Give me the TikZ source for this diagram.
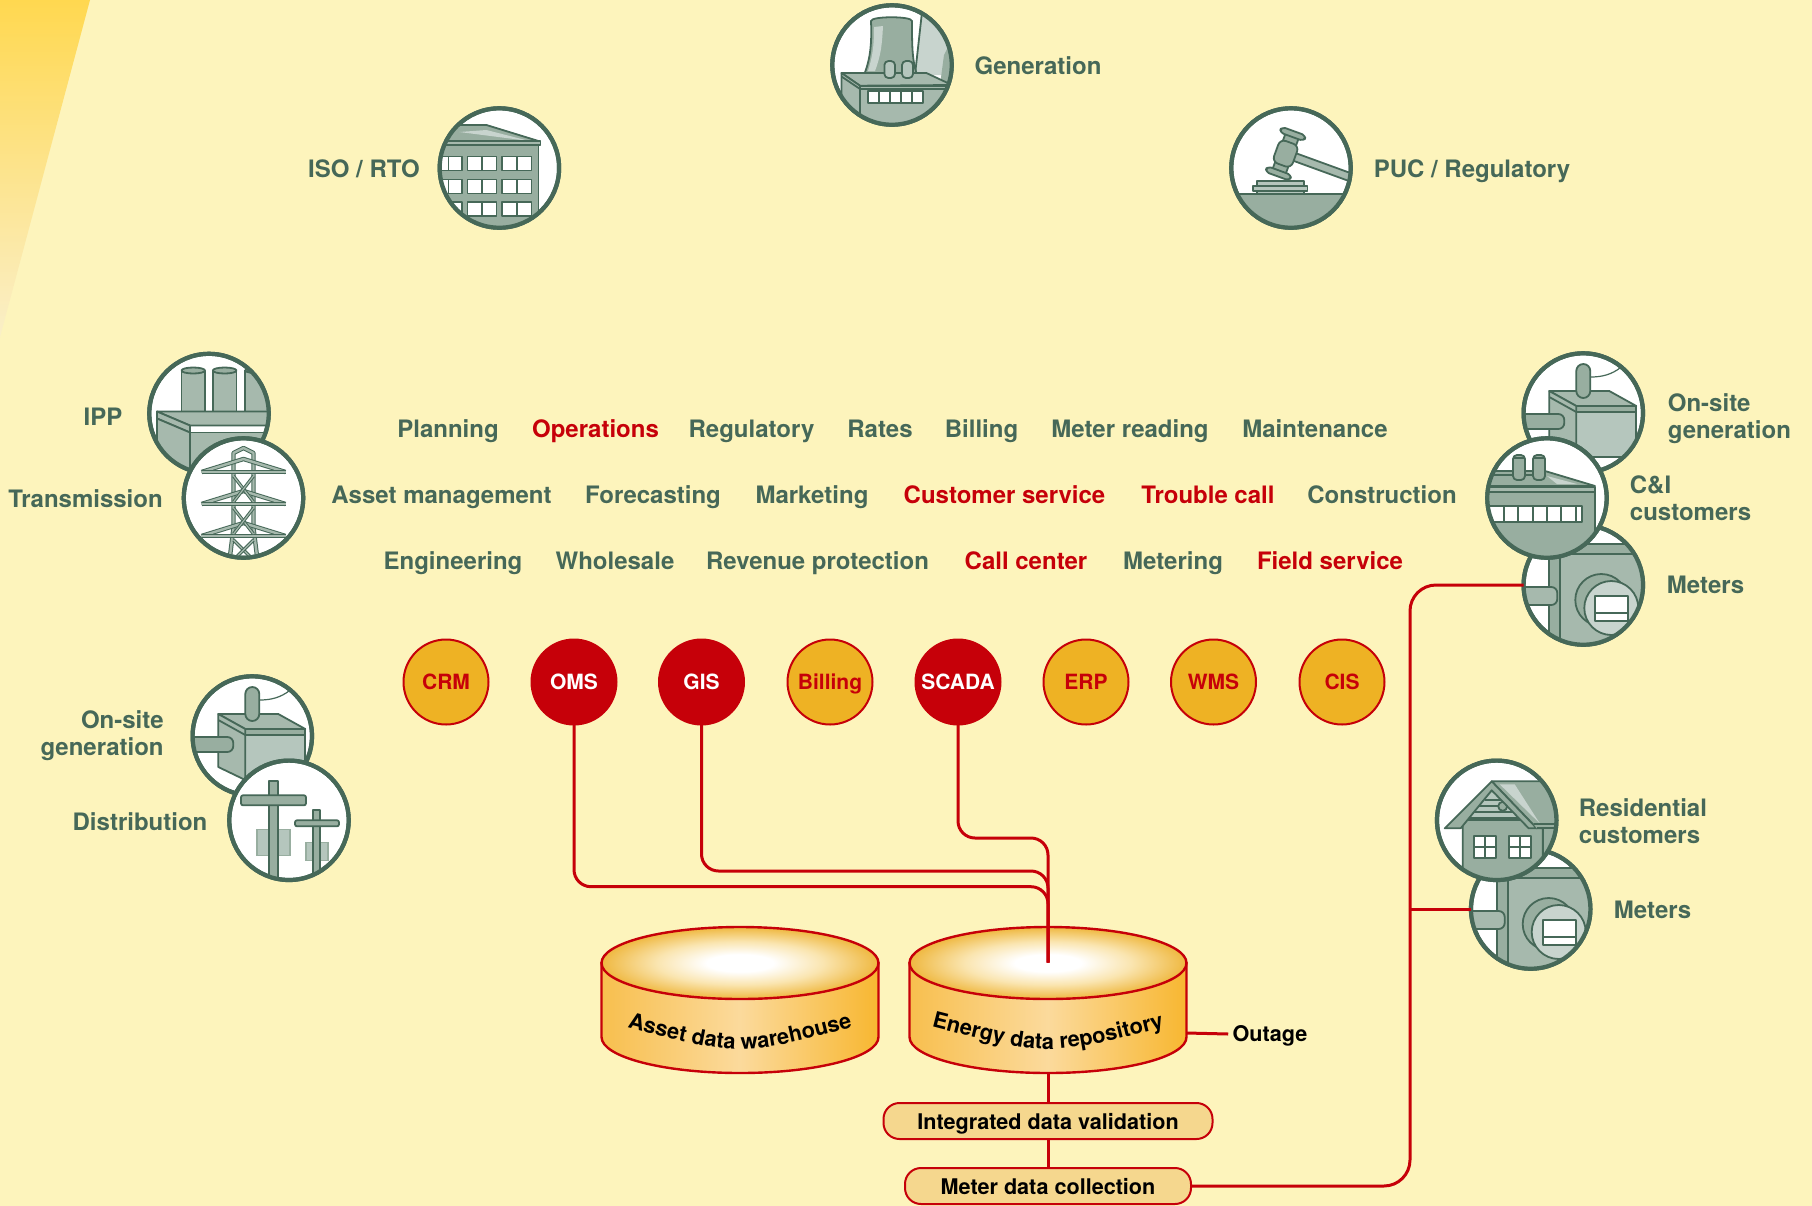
\documentclass[tikz,border=0pt]{standalone}
\usepackage{fontspec}
\setmainfont{TeX Gyre Heros}
\usetikzlibrary{decorations.text}
\definecolor{bgc}{HTML}{FDF4BC}
\definecolor{grn}{HTML}{466858}
\definecolor{mdg}{HTML}{98AEA0}
\definecolor{ltg}{HTML}{A6B9AD}
\definecolor{pal}{HTML}{B5C6BD}
\definecolor{pl2}{HTML}{C8D4CE}
\definecolor{rd}{HTML}{C60009}
\definecolor{org}{HTML}{EEB224}
\definecolor{pil}{HTML}{F5D78E}
\definecolor{cylL}{HTML}{F8BF4E}
\definecolor{cylM}{HTML}{FBDA9C}
\definecolor{cylR}{HTML}{F8B731}
\definecolor{cylE}{HTML}{EFB840}
\definecolor{cylF}{HTML}{FAE5B0}
\definecolor{wedgeT}{HTML}{FFD850}
\definecolor{wedgeB}{HTML}{FAEFC8}
\pgfdeclareradialshading{topell}{\pgfpoint{0bp}{0bp}}{color(0bp)=(white);color(6bp)=(white);color(15bp)=(cylF);color(25bp)=(cylE);color(50bp)=(cylE)}
\pgfdeclarehorizontalshading{cylside}{100bp}{color(0bp)=(cylL);color(25bp)=(cylL);color(50bp)=(cylM);color(75bp)=(cylR);color(100bp)=(cylR)}
\newcommand\lbl{\fontsize{12pt}{13.5pt}\selectfont\bfseries}
\newcommand\blk{\fontsize{10.8pt}{12pt}\selectfont\bfseries}
\newcommand\cyltxt{\fontsize{10.9pt}{12pt}\selectfont\bfseries}
\tikzset{
 ln/.style={draw=grn,line width=.9pt,line join=round},
 thn/.style={draw=grn,line width=.6pt},
 fm/.style={ln,fill=mdg},
 fl/.style={ln,fill=ltg},
 fp/.style={ln,fill=pal},
 fw/.style={ln,fill=white},
 dbl/.style={draw=grn,line width=.5pt,double=ltg,double distance=1.2pt,line join=round},
 ring/.style={circle,fill=white,draw=grn,line width=2.1pt,minimum size=59.7pt,inner sep=0pt,outer sep=0pt},
 ringln/.style={draw=grn,line width=2.1pt},
 glab/.style={text=grn,inner sep=0pt,font=\lbl,text height=9.8pt,text depth=1.3pt},
 glabm/.style={text=grn,inner sep=0pt,font=\lbl,align=left},
 rlab/.style={glab,text=rd},
 sysbase/.style={circle,minimum size=42.5pt,inner sep=0pt,outer sep=0pt,draw=rd,line width=1pt,text height=7.6pt,text depth=0pt,font=\fontsize{10.5pt}{12pt}\selectfont\bfseries},
 sysor/.style={sysbase,fill=org,text=rd},
 sysrd/.style={sysbase,fill=rd,text=white},
 pill/.style={draw=rd,fill=pil,line width=1pt,rounded corners=8pt,minimum height=18pt,inner sep=0pt,outer sep=0pt,text height=8.3pt,text depth=0pt,font=\blk},
 redl/.style={draw=rd,line width=1.5pt},
 cylout/.style={draw=rd,line width=1.2pt},
}
\newcommand\icon[4]{%
 \node[ring] (#1) at (#2,#3) {};
 \begin{scope}[shift={(#2,#3)}]
  \begin{scope}\clip (0,0) circle [radius=59.7]; #4 \end{scope}
  \draw[ringln] (0,0) circle [radius=59.7];
 \end{scope}}
\newcommand\bodyISO{%
 \fill[mdg] (-70,-27) rectangle (39,70);
 \filldraw[fm] (-70,-43) -- (-13,-43) -- (39,-27) -- (-70,-27) -- cycle;
 \fill[pl2] (-40,-36) -- (-13,-38) -- (30,-27) -- cycle;
 \draw[ln,fill=ltg] (-70,-27) rectangle (41,-23);
 \draw[ln] (39,-23) -- (39,52);
 \fill[mdg] (-70,49) rectangle (70,70);
 \foreach \ya/\yb in {-11.5/2.5,11.5/25.5,34/48}{
  \foreach \xa/\xb/\xm in {-70/-37.5/-51,-32/-3/-17.5,2.7/32/17.5}{
   \draw[fw] (\xa,\ya) rectangle (\xb,\yb);
   \draw[ln] (\xm,\ya) -- (\xm,\yb);
  }}
}
\newcommand\bodyGen{%
 \fill[pl2] (31,-62) -- (23,10) -- (62,10) -- (62,-62) -- cycle;
 \fill[mdg] (52,-10) -- (62,-30) -- (62,20) -- (48,20) -- cycle;
 \draw[ln] (31,-62) -- (23,10);
 \filldraw[fm] (-21,-44) .. controls (-20,-20) and (-22,-5) .. (-28,10) -- (25,10) .. controls (20,-5) and (20,-20) .. (20,-44) .. controls (20,-49) and (-21,-49) .. (-21,-44) -- cycle;
 \fill[pl2] (-18,-38) -- (-9,-39) .. controls (-10,-20) and (-11,-10) .. (-17,6) -- (-24,6) .. controls (-19,-10) and (-18,-20) .. (-18,-38) -- cycle;
 \filldraw[fl] (-50.5,8) -- (34.4,8) -- (60,20) -- (-32,20.7) -- cycle;
 \filldraw[fl] (-32,20.7) -- (60,20.7) -- (60,70) -- (-32,70) -- cycle;
 \filldraw[fl] (-50.5,8) -- (-32,20.7) -- (-32,70) -- (-50.5,70) -- cycle;
 \draw[ln] (-50.5,11.5) -- (-32,24) -- (60,24);
 \draw[fp,rounded corners=2pt] (-7.6,-4) rectangle (3,13);
 \draw[fp,rounded corners=2pt] (10,-4) rectangle (21,13);
 \foreach \a/\b in {-24/-13,-13/-2,-2/9,9/20,20/31}{\draw[fw] (\a,26) rectangle (\b,38);}
}
\newcommand\bodyPUC{%
 \filldraw[fm] (-70,25.7) rectangle (70,70);
 \draw[fp] (-34,13) rectangle (13,26);
 \draw[fp] (-38,18) rectangle (16.5,23);
 \begin{scope}[shift={(-5.4,-14.3)},rotate=-20]
  \filldraw[fl] (8,-4) rectangle (85,4);
  \filldraw[fm] (-7,-20) rectangle (7,20);
  \filldraw[fm,rounded corners=3pt] (-10,-12) rectangle (10,12);
  \filldraw[fm,rounded corners=2pt] (-13,-24) rectangle (13,-18);
  \filldraw[fm,rounded corners=2pt] (-13,18) rectangle (13,24);
 \end{scope}
}
\newcommand\bodyIPP{%
 \foreach \a/\b in {-27.5/-4,3.8/27.5,36/70}{
  \filldraw[fl] (\a,-43) -- (\a,0) -- (\b,0) -- (\b,-43) -- cycle;
  \filldraw[fm] ({(\a+\b)/2},-43) ellipse [x radius={(\b-\a)/2},y radius=3];
 }
 \filldraw[fl] (-52,-2) -- (70,-2) -- (70,12) -- (-19,12) -- cycle;
 \filldraw[fl] (-52,-2) -- (-19,12) -- (-19,19) -- (-52,5) -- cycle;
 \filldraw[fl] (-52,5) -- (-19,19) -- (-19,70) -- (-52,70) -- cycle;
 \filldraw[fl] (-19,19) rectangle (70,70);
 \draw[ln] (-19,12) -- (70,12);
}
\newcommand\bodyTrans{%
 \draw[dbl] (-14,62) -- (-10,30) -- (-10,-45) -- (0,-50) -- (10,-45) -- (10,30) -- (14,62);
 \foreach \y/\u in {-26/-39,6/-7,38/25}{
  \draw[dbl] (-42,\y) -- (0,\u) -- (42,\y);
  \draw[dbl] (-42,\y) -- (42,\y);
 }
 \foreach \a/\b in {-22/4,10/36,42/62}{
  \draw[dbl,double distance=.6pt] (-10,\a) -- (10,\b);
  \draw[dbl,double distance=.6pt] (10,\a) -- (-10,\b);
 }
}
\newcommand\bodyOnsite{%
 \draw[thn] (7,-36) .. controls (18,-36) and (28,-38) .. (38,-46);
 \filldraw[fl] (-34,-22) -- (26,-22) -- (53,-7) -- (-7,-7) -- cycle;
 \filldraw[fp] (-7,-1) rectangle (53,44);
 \filldraw[fm] (-7,-7) rectangle (53,-1);
 \filldraw[fl] (-34,-22) -- (-7,-7) -- (-7,44) -- (-34,31) -- cycle;
 \draw[ln] (-34,-16) -- (-7,-1);
 \filldraw[fm,rounded corners=3pt] (-75,1) rectangle (-19,16);
 \filldraw[fm,rounded corners=3.5pt] (-7,-49) rectangle (7,-15);
}
\newcommand\bodyDist{%
 \filldraw[draw=mdg,fill=pal,line width=.8pt] (-32,9) rectangle (1,35);
 \filldraw[fm] (-20,-39) rectangle (-11,70);
 \filldraw[fm,rounded corners=1pt] (-48,-25) rectangle (17,-15);
 \filldraw[draw=mdg,fill=pal,line width=.8pt] (17,22) rectangle (39,40);
 \filldraw[fm] (24,-10) rectangle (31,70);
 \filldraw[fm,rounded corners=1pt] (6,0) rectangle (50,6);
}
\newcommand\bodyMeter{%
 \fill[mdg] (-23,-41) rectangle (70,-31);
 \draw[ln] (-23,-41) -- (70,-41) (-23,-31) -- (70,-31);
 \filldraw[fl] (-23,-31) rectangle (70,70);
 \filldraw[fm] (-34,-70) rectangle (-23,70);
 \filldraw[fl,rounded corners=3pt] (-75,2) rectangle (-26,20);
 \filldraw[fm] (18,15) circle [radius=26];
 \filldraw[ln,fill=pl2] (28,23) circle [radius=27];
 \draw[fw] (12,11) rectangle (45,36);
 \draw[ln] (12,28) -- (45,28);
}
\newcommand\bodyCI{%
 \filldraw[fm] (-70,-27) -- (-2,-27) -- (48,-12) -- (-70,-12) -- cycle;
 \fill[pl2] (0,-22) -- (30,-14) -- (10,-14) -- cycle;
 \draw[ln] (-70,-23) -- (-2,-23);
 \filldraw[fl] (-70,-11) rectangle (48,-6);
 \filldraw[fm] (-70,-6) rectangle (48,48);
 \fill[mdg] (-70,40) rectangle (70,70);
 \draw[ln] (48,40) -- (48,48);
 \foreach \a in {-34,-14}{
  \filldraw[fm,rounded corners=2pt] (\a,-43) rectangle ({\a+12},-18);
  \draw[ln] (\a,-40) -- ({\a+12},-40);
 }
 \foreach \a/\b in {-71.8/-57.5,-57.5/-43,-43/-28.7,-28.7/-14.3,-14.3/0,0/14.3,14.3/28.6,28.6/35}{\draw[fw] (\a,8) rectangle (\b,24);}
}
\newcommand\bodyRes{%
 \filldraw[fm] (-5,-39) -- (70,-39) -- (70,6) -- (40,8) -- cycle;
 \fill[pl2] (3,-36) -- (18,-36) -- (43,3) -- cycle;
 \filldraw[fm] (46,6) rectangle (70,70);
 \filldraw[fm] (-34,-2) -- (-5,-30) -- (40,8) -- (46,8) -- (46,70) -- (-34,70) -- cycle;
 \fill[pal] (-5,-28) -- (-31,0) -- (32,0) -- cycle;
 \foreach \y/\a/\b in {-20/-12/4,-14/-18/10,-8/-24/17,-2/-29/24}{\draw[ln] (\a,\y) -- (\b,\y);}
 \draw[ln] (-31,0) -- (32,0);
 \filldraw[fm] (6,-14) circle [radius=4.5];
 \filldraw[fm] (-52,8) -- (-5,-39) -- (40,8) -- (32,8) -- (-5,-30) -- (-36,8) -- cycle;
 \draw[fm] (40,8) -- (62,8) -- (62,4) -- (37,4);
 \foreach \a in {-23,12}{
  \draw[fw] (\a,16) rectangle ({\a+22},38);
  \draw[ln] ({\a+11},16) -- ({\a+11},38) (\a,27) -- ({\a+22},27);
 }
}
\begin{document}
\begin{tikzpicture}[x=0.5pt,y=-0.5pt]
\useasboundingbox (0,0) rectangle (1812,1206);
\fill[bgc] (0,0) rectangle (1812,1206);
\shade[top color=wedgeT,bottom color=wedgeB] (0,0) -- (90,0) -- (0,337) -- cycle;
% icons
\icon{gen}{892}{65}{\bodyGen}
\icon{iso}{499.4}{168}{\bodyISO}
\icon{puc}{1291}{168}{\bodyPUC}
\icon{ipp}{209}{413.5}{\bodyIPP}
\icon{trans}{243.5}{498}{\bodyTrans}
\icon{onl}{252.3}{736}{\bodyOnsite}
\icon{dist}{289}{820.3}{\bodyDist}
\icon{onr}{1583.3}{413}{\bodyOnsite}
\icon{mtra}{1583.3}{585}{\bodyMeter}
\icon{cni}{1547}{498}{\bodyCI}
\icon{mtrb}{1530.7}{909}{\bodyMeter}
\icon{res}{1496.7}{820.3}{\bodyRes}
% icon labels
\node[glab] (lgen) at (1038,66) {Generation};
\node[glab] (liso) at (364,169) {ISO / RTO};
\node[glab] (lpuc) at (1472,169) {PUC / Regulatory};
\node[glab] (lipp) at (103,417) {IPP};
\node[glab] (ltrans) at (85.5,499) {Transmission};
\node[glabm,align=right,anchor=east] (lonl) at (164,736) {On-site\\generation};
\node[glab] (ldist) at (140,821.5) {Distribution};
\node[glabm,anchor=west] (lonr) at (1667.5,418.8) {On-site\\generation};
\node[glabm,anchor=west] (lcni) at (1629.5,498.5) {C\&I\\customers};
\node[glab,anchor=west] (lmtra) at (1666.5,585) {Meters};
\node[glabm,anchor=west] (lres) at (1578.5,821) {Residential\\customers};
\node[glab,anchor=west] (lmtrb) at (1613.5,909.5) {Meters};
% function rows
\node[glab] (f1) at (448,429) {Planning};
\node[rlab] (f2) at (595.5,429) {Operations};
\node[glab] (f3) at (751.5,429) {Regulatory};
\node[glab] (f4) at (880,429) {Rates};
\node[glab] (f5) at (981.5,429) {Billing};
\node[glab] (f6) at (1130,429) {Meter reading};
\node[glab] (f7) at (1315,429) {Maintenance};
\node[glab] (f8) at (441.5,495) {Asset management};
\node[glab] (f9) at (653,495) {Forecasting};
\node[glab] (f10) at (812,495) {Marketing};
\node[rlab] (f11) at (1004.5,495) {Customer service};
\node[rlab] (f12) at (1208,495) {Trouble call};
\node[glab] (f13) at (1382,495) {Construction};
\node[glab] (f14) at (453,561) {Engineering};
\node[glab] (f15) at (615,561) {Wholesale};
\node[glab] (f16) at (817.5,561) {Revenue protection};
\node[rlab] (f17) at (1026,561) {Call center};
\node[glab] (f18) at (1173,561) {Metering};
\node[rlab] (f19) at (1330,561) {Field service};
% systems
\node[sysor] (crm) at (446,682) {CRM};
\node[sysrd] (oms) at (574,682) {OMS};
\node[sysrd] (gis) at (701.5,682) {GIS};
\node[sysor] (bil) at (830,682) {Billing};
\node[sysrd] (sca) at (958,682) {SCADA};
\node[sysor] (erp) at (1086,682) {ERP};
\node[sysor] (wms) at (1213.5,682) {WMS};
\node[sysor] (cis) at (1342,682) {CIS};
% cylinders
\foreach \cx in {740,1048}{
 \begin{scope}[shift={(\cx,0)}]
  \path[cylout,shading=cylside,shading angle=0] (-138.5,963) -- (-138.5,1037) .. controls (-138.5,1057) and (-76.5,1073) .. (0,1073) .. controls (76.5,1073) and (138.5,1057) .. (138.5,1037) -- (138.5,963) -- cycle;
  \path[cylout,shading=topell] (0,963) ellipse [x radius=138.5,y radius=36];
 \end{scope}
}
\path[decorate,decoration={text along path,text align=center,text={|\cyltxt|Asset data warehouse}}] (618,1025) .. controls (740,1057) .. (862,1025);
\path[decorate,decoration={text along path,text align=center,text={|\cyltxt|Energy data repository}}] (924,1025) .. controls (1048,1057) .. (1172,1025);
\coordinate (repin) at (1048,962.7);
\coordinate (repbot) at (1048,1073);
\coordinate (repright) at (1186.5,1033);
\coordinate (yoms) at (0,886.7);
\coordinate (ygis) at (0,871);
\coordinate (ysca) at (0,838);
\coordinate (trunk) at (1410,0);
% pills
\node[pill,minimum width=164.5pt] (idv) at (1048,1121) {Integrated data validation};
\node[pill,minimum width=143pt] (mdc) at (1048,1186) {Meter data collection};
\node[inner sep=2pt,font=\blk,text height=7.4pt,text depth=0pt] (out) at (1270,1034) {Outage};
% connectors
\draw[redl,rounded corners=8.5pt] (oms.south) -- (oms.south |- yoms) -- (repin |- yoms) -- (repin);
\draw[redl,rounded corners=8.5pt] (gis.south) -- (gis.south |- ygis) -- (repin |- ygis) -- (repin);
\draw[redl,rounded corners=8.5pt] (sca.south) -- (sca.south |- ysca) -- (repin |- ysca) -- (repin);
\draw[redl] (repbot) -- (idv.north);
\draw[redl] (idv.south) -- (mdc.north);
\draw[redl] (repright) -- (out.west);
\draw[redl,rounded corners=13pt] (mdc.east) -- (trunk |- mdc.east) -- (trunk |- mtra.west) -- (mtra.west);
\draw[redl] (trunk |- mtrb.west) -- (mtrb.west);
\end{tikzpicture}
\end{document}
